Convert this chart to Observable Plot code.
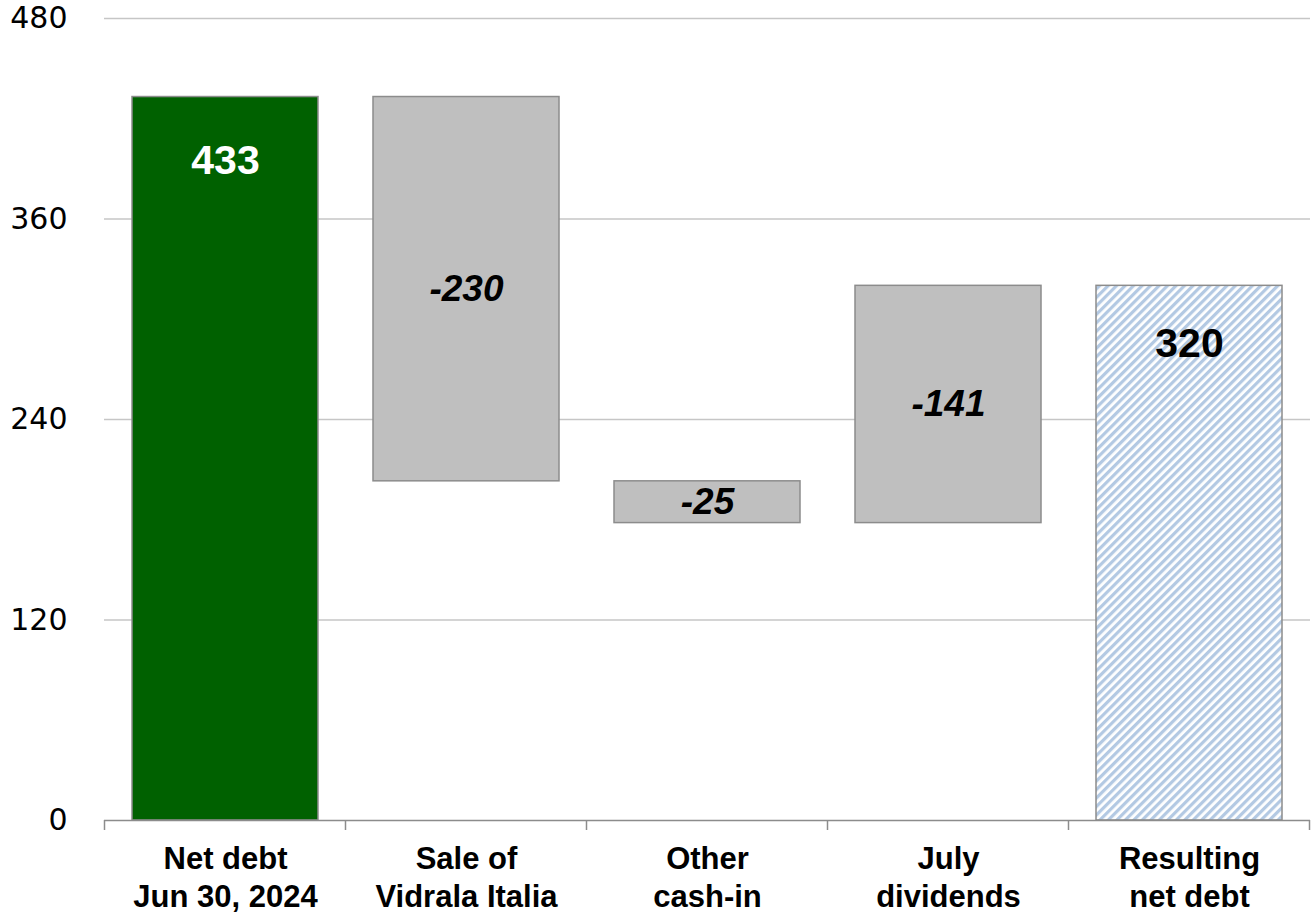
<!DOCTYPE html>
<html>
<head>
<meta charset="utf-8">
<script src="https://cdn.jsdelivr.net/npm/d3@7"></script>
<script src="https://cdn.jsdelivr.net/npm/@observablehq/plot@0.6"></script>
<style>
  html, body { margin: 0; padding: 0; background: #fff; }
  #chart svg { display: block; }
</style>
</head>
<body>
<div id="chart"></div>
<script>
const categories = ["Net debt\nJun 30, 2024", "Sale of\nVidrala Italia", "Other\ncash-in", "July\ndividends", "Resulting\nnet debt"];
const barStart = [0, 433, 203, 178, 0];
const barEnd = [433, 203, 178, 320, 320];
const barLabels = ["433", "-230", "-25", "-141", "320"];
const barKinds = ["start", "delta", "delta", "delta", "result"];
const yTicks = [0, 120, 240, 360, 480];

const rows = categories.map((c, i) => ({cat: c, start: barStart[i], end: barEnd[i], label: barLabels[i], kind: barKinds[i]}));
const of = k => rows.filter(d => d.kind === k);

const font = "'Liberation Sans', Arial, sans-serif";
const barStroke = "#8c8c8c";

const boundaryTicks = (index, scales) => {
  const x = scales.x, y = scales.y;
  const step = x.step(), gap = step - x.bandwidth();
  const xs = categories.map(c => x(c) - gap / 2);
  xs.push(x(categories[categories.length - 1]) + x.bandwidth() + gap / 2);
  const g = d3.create("svg:g");
  const y0 = y(0);
  for (const xv of xs) {
    g.append("line").attr("x1", xv).attr("x2", xv).attr("y1", y0).attr("y2", y0 + 10)
      .attr("stroke", barStroke).attr("stroke-width", 1.5);
  }
  return g.node();
};

const chart = Plot.plot({
  width: 1314,
  height: 920,
  marginTop: 18,
  marginBottom: 100,
  marginLeft: 104,
  marginRight: 4,
  style: {fontFamily: font, background: "#fff", color: "#000"},
  x: {domain: categories, paddingInner: 0.23, paddingOuter: 0.115, label: null},
  y: {domain: [0, 480], label: null},
  marks: [
    Plot.ruleY(yTicks.filter(t => t > 0), {stroke: "#c6c6c6", strokeWidth: 1.3}),
    Plot.axisY({ticks: yTicks, tickSize: 0, tickPadding: 37, fontSize: 30, fontFamily: "'DejaVu Sans', sans-serif", label: null, fill: "#000"}),
    Plot.axisX({tickSize: 0, tickPadding: 22, fontSize: 31, fontWeight: "bold", lineHeight: 1.22, label: null, fill: "#000"}),
    Plot.barY(of("start"), {x: "cat", y1: "start", y2: "end", fill: "#006100", stroke: barStroke, strokeWidth: 1.5}),
    Plot.barY(of("delta"), {x: "cat", y1: "start", y2: "end", fill: "#bfbfbf", stroke: barStroke, strokeWidth: 1.5}),
    Plot.barY(of("result"), {x: "cat", y1: "start", y2: "end", fill: "url(#hatch)", stroke: barStroke, strokeWidth: 1.5}),
    Plot.ruleY([0], {stroke: barStroke, strokeWidth: 1.5}),
    boundaryTicks,
    Plot.text(of("delta"), {x: "cat", y: d => (d.start + d.end) / 2, text: "label", fontSize: 37, fontWeight: "bold", fontStyle: "italic", fill: "#000"}),
    Plot.text(of("start"), {x: "cat", y: "end", dy: 64, text: "label", fontSize: 41, fontWeight: "bold", fill: "#fff"}),
    Plot.text(of("result"), {x: "cat", y: "end", dy: 58, text: "label", fontSize: 41, fontWeight: "bold", fill: "#000"})
  ]
});

const ns = "http://www.w3.org/2000/svg";
const defs = document.createElementNS(ns, "defs");
defs.innerHTML = `<pattern id="hatch" patternUnits="userSpaceOnUse" width="6" height="6" patternTransform="rotate(45)">
  <rect width="6" height="6" fill="#ffffff"></rect>
  <rect width="3.2" height="6" fill="#b3c9e3"></rect>
</pattern>`;
chart.insertBefore(defs, chart.firstChild);
document.getElementById("chart").appendChild(chart);
</script>
</body>
</html>
